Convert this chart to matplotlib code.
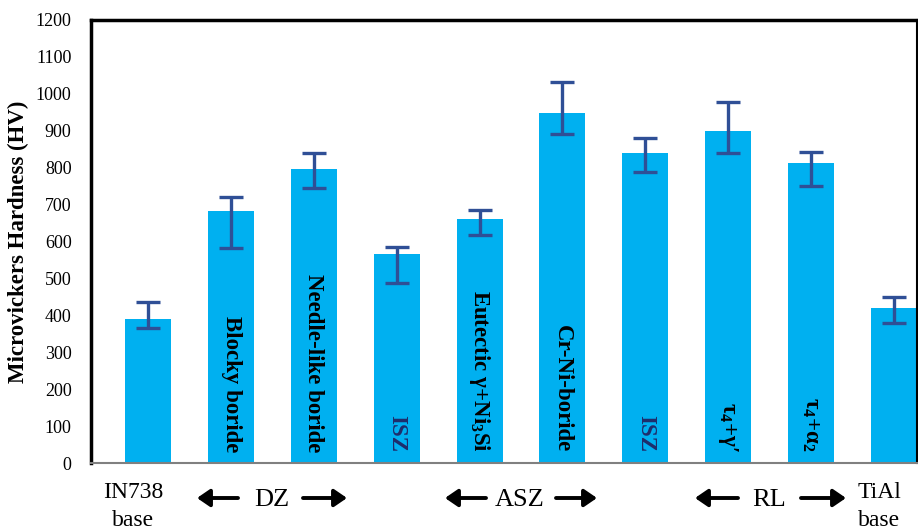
import matplotlib
matplotlib.use("Agg")
import matplotlib.pyplot as plt
from matplotlib.patches import FancyArrowPatch

# Data
zones = ["IN738 base", "Blocky boride", "Needle-like boride", "ISZ",
         "Eutectic γ+Ni$_3$Si", "Cr-Ni-boride", "ISZ", "τ$_4$+γ′",
         "τ$_4$+α$_2$", "TiAl base"]
bar_labels = ["", "Blocky boride", "Needle-like boride", "ISZ",
              "Eutectic γ+Ni$_3$Si", "Cr-Ni-boride", "ISZ", "τ$_4$+γ′",
              "τ$_4$+α$_2$", ""]
hardness = [390, 683, 797, 566, 661, 948, 840, 898, 812, 421]
err_upper = [46, 38, 43, 19, 25, 84, 40, 81, 31, 29]
err_lower = [24, 100, 52, 78, 43, 56, 52, 58, 61, 42]
label_colors = ["black", "black", "black", "#1f2d6b", "black", "black",
                "#1f2d6b", "black", "black", "black"]

plt.rcParams["font.family"] = ["Liberation Serif", "DejaVu Serif"]
plt.rcParams["mathtext.fontset"] = "custom"
plt.rcParams["mathtext.rm"] = "Liberation Serif:bold"
plt.rcParams["mathtext.it"] = "Liberation Serif:bold"
plt.rcParams["mathtext.bf"] = "Liberation Serif:bold"
plt.rcParams["mathtext.default"] = "rm"

fig = plt.figure(figsize=(9.18, 5.29), dpi=100)
ax = fig.add_axes([91 / 918, 1 - 463 / 529, (917 - 91) / 918, (463 - 20) / 529])

x = list(range(len(hardness)))
ax.bar(x, hardness, width=0.555, color="#00b0f0", zorder=2)
ax.errorbar(x, hardness, yerr=[err_lower, err_upper], fmt="none",
            ecolor="#2f4f96", elinewidth=2.4, capsize=8.5, capthick=2.4, zorder=3)

for xi, lab, col in zip(x, bar_labels, label_colors):
    if lab:
        ax.text(xi, 30, lab, rotation=270, ha="center", va="bottom",
                fontsize=16.5, fontweight="bold", color=col, zorder=4)

ax.set_xlim(-0.69, 9.28)
ax.set_ylim(0, 1200)
ax.set_yticks(range(0, 1201, 100))
ax.set_xticks([])
ax.tick_params(axis="y", length=0, labelsize=13, pad=14)
ax.set_ylabel("Microvickers Hardness (HV)", fontsize=16.5, fontweight="bold", labelpad=5)

ax.spines["left"].set_linewidth(2.5)
ax.spines["top"].set_linewidth(2.5)
ax.spines["right"].set_linewidth(1.5)
ax.spines["bottom"].set_linewidth(1.5)
ax.spines["bottom"].set_color("#808080")


# Zone annotations below the axis (pixel positions)
def yfrac(py):
    return 1 - py / 529


def xfrac(px):
    return px / 918


fig.text(xfrac(133), yfrac(492), "IN738", ha="center", va="center", fontsize=17)
fig.text(xfrac(133), yfrac(520), "base", ha="center", va="center", fontsize=17)
fig.text(xfrac(879), yfrac(492), "TiAl", ha="center", va="center", fontsize=17)
fig.text(xfrac(879), yfrac(520), "base", ha="center", va="center", fontsize=17)

groups = [("DZ", 272, 197, 238, 303, 347),
          ("ASZ", 520, 445, 486, 556, 597),
          ("RL", 769, 695, 738, 801, 846)]
for name, cx, l0, l1, r0, r1 in groups:
    fig.text(xfrac(cx), yfrac(500), name, ha="center", va="center", fontsize=19)
    for a, b in [(l1, l0), (r0, r1)]:
        fig.add_artist(FancyArrowPatch(
            (xfrac(a), yfrac(498)), (xfrac(b), yfrac(498)),
            transform=fig.transFigure, arrowstyle="-|>,head_length=3.8,head_width=2.6",
            mutation_scale=2, lw=2.8, color="black", shrinkA=0, shrinkB=0))

fig.savefig("out.png", dpi=100)
